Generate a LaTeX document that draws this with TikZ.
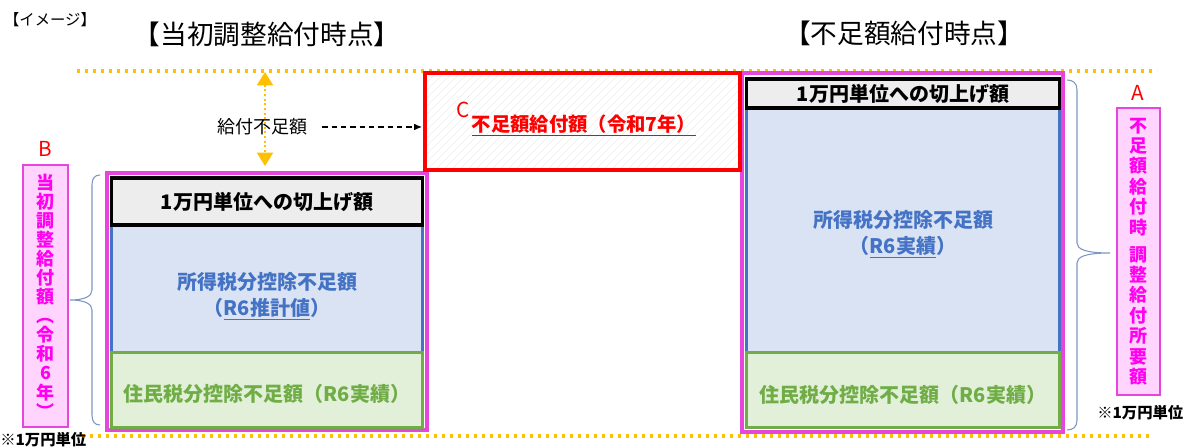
\documentclass[tikz,border=0pt]{standalone}
\usepackage{fontspec}
\setmainfont{Noto Sans CJK JP}
\usetikzlibrary{arrows.meta,patterns.meta}

\definecolor{gold}{RGB}{255,192,0}
\definecolor{magborder}{RGB}{230,70,220}
\definecolor{magtext}{RGB}{255,0,240}
\definecolor{pinkfill}{RGB}{255,212,255}
\definecolor{bluetext}{RGB}{68,114,196}
\definecolor{bluefill}{RGB}{218,227,243}
\definecolor{greentext}{RGB}{112,173,71}
\definecolor{greenfill}{RGB}{226,240,217}
\definecolor{graybox}{RGB}{237,237,237}
\definecolor{bracecol}{RGB}{125,150,195}

\tikzset{
  stack/.style={draw=magborder, line width=2.5pt, inner sep=0pt},
  roundbox/.style={draw=black, fill=graybox, line width=2.5pt, inner sep=0pt,
    font=\fontsize{15}{18}\selectfont\bfseries},
  incomebox/.style={draw=bluetext, fill=bluefill, line width=2.25pt, inner sep=0pt},
  incometxt/.style={text=bluetext, align=center, font=\fontsize{15}{19.5}\selectfont\bfseries},
  residentbox/.style={draw=greentext, fill=greenfill, line width=2.25pt, inner sep=0pt},
  residenttxt/.style={text=greentext, font=\fontsize{15}{18}\selectfont\bfseries},
  shortbox/.style={draw=red, line width=3pt, inner sep=0pt,
    pattern={Lines[angle=45,distance=4pt,line width=0.4pt]}, pattern color=gray!15},
  tagbox/.style={draw=magborder, fill=pinkfill, line width=1pt, inner sep=0pt,
    text=magtext, align=center},
  letter/.style={text=red, font=\fontsize{15.5}{18}\selectfont},
  title/.style={font=\fontsize{20}{24}\selectfont},
  note/.style={font=\fontsize{11.5}{13}\selectfont\bfseries},
  goldline/.style={gold, line width=2.4pt, dash pattern=on 2.4pt off 3.6pt},
  gaparrow/.style={gold, line width=1.5pt, dotted,
    {Triangle[width=12pt,length=10pt]}-{Triangle[width=12pt,length=10pt]}},
  dasharrow/.style={black, line width=0.8pt, dash pattern=on 4pt off 3pt, -{Latex[length=6pt,width=5pt]}},
  brace/.style={bracecol, line width=0.8pt}
}

\begin{document}
\begin{tikzpicture}[x=0.75pt, y=-0.75pt]
\useasboundingbox (0,0) rectangle (1190,448);

% headings
\node[font=\fontsize{11.5}{13}\selectfont] (image) at (50,20) {【イメージ】};
\node[title] (titleleft) at (267,34) {【当初調整給付時点】};
\node[title] (titleright) at (904,33) {【不足額給付時点】};

% dotted levels
\coordinate (topL) at (77,71);
\coordinate (topR) at (1157,71);
\coordinate (botL) at (82,436);
\coordinate (botR) at (1150,436);
\draw[goldline] (topL) -- (topR);
\draw[goldline] (botL) -- (botR);

% left: initial adjustment
\node[stack, minimum width=240pt, minimum height=192.75pt] (leftstack) at (267,301.5) {};
\node[incomebox, minimum width=233pt, minimum height=96pt] (leftincome) at (267,289) {};
\node[incometxt] (leftincometxt) at (267,296) {所得税分控除不足額\\（\underline{R6推計値}）};
\node[residentbox, minimum width=233pt, minimum height=56.25pt] (leftresident) at (267,390.5) {};
\node[residenttxt] (leftresidenttxt) at (267,394) {住民税分控除不足額（R6実績）};
\node[roundbox, minimum width=233pt, minimum height=35.25pt] (leftround) at (267,201.5)
  {1万円単位への切上げ額};

% right: shortfall payment
\node[stack, minimum width=240.75pt, minimum height=269.25pt] (rightstack) at (902.5,252.5) {};
\node[incomebox, minimum width=234.5pt, minimum height=183.75pt] (rightincome) at (903,230.5) {};
\node[incometxt] (rightincometxt) at (903,234) {所得税分控除不足額\\（\underline{R6実績}）};
\node[residentbox, minimum width=234.5pt, minimum height=56.25pt] (rightresident) at (903,390.5) {};
\node[residenttxt] (rightresidenttxt) at (903,395) {住民税分控除不足額（R6実績）};
\node[roundbox, minimum width=234.5pt, minimum height=21.75pt] (rightround) at (903,93.5)
  {1万円単位への切上げ額};

% shortfall box
\node[shortbox, minimum width=236.25pt, minimum height=72.75pt] (shortfall) at (582.5,121.5) {};
\node[text=red, font=\fontsize{14.5}{18}\selectfont\bfseries] (shortfalltxt) at (584,125)
  {\underline{不足額給付額（令和7年）}};
\node[letter] (labelC) at (463,110) {C};

% gap
\node[font=\fontsize{13.5}{16}\selectfont] (gap) at (262,127) {給付不足額};
\coordinate (gaptop) at (265,72);
\coordinate (gapbot) at (265,166);
\draw[gaparrow] (gaptop) -- (gapbot);
\draw[dasharrow, shorten <=8pt, shorten >=2pt] (gap.east) -- (gap.east -| shortfall.west);

% tags
\node[letter] (labelB) at (45,149) {B};
\node[tagbox, minimum width=33.75pt, minimum height=196.5pt,
  font=\fontsize{13.5}{14.3}\selectfont\bfseries] (tagB) at (45.5,296)
  {当\\初\\調\\整\\給\\付\\額\\︵\\令\\和\\6\\年\\︶};
\node[letter] (labelA) at (1138,93) {A};
\node[tagbox, minimum width=32.25pt, minimum height=215.25pt,
  font=\fontsize{13.5}{15.3}\selectfont\bfseries] (tagA) at (1138.5,251.5)
  {不\\足\\額\\給\\付\\時\\[5pt]調\\整\\給\\付\\所\\要\\額};

% braces
\draw[brace] (100,175) .. controls (95,175) and (92,178) .. (92,185) -- (92,290)
  .. controls (92,296) and (85,300) .. (70,300) .. controls (85,300) and (92,304) .. (92,310)
  -- (92,415) .. controls (92,422) and (95,425) .. (100,425);
\draw[brace] (1067,80) .. controls (1073,80) and (1077,83) .. (1077,90) -- (1077,243)
  .. controls (1077,249) and (1085,253) .. (1110,253) .. controls (1085,253) and (1077,257) .. (1077,263)
  -- (1077,420) .. controls (1077,427) and (1073,430) .. (1067,430);

% notes
\node[note, anchor=west, inner sep=0pt] (noteleft) at (0,440) {※1万円単位};
\node[note, anchor=west, inner sep=0pt] (noteright) at (1097,413) {※1万円単位};

\end{tikzpicture}
\end{document}
